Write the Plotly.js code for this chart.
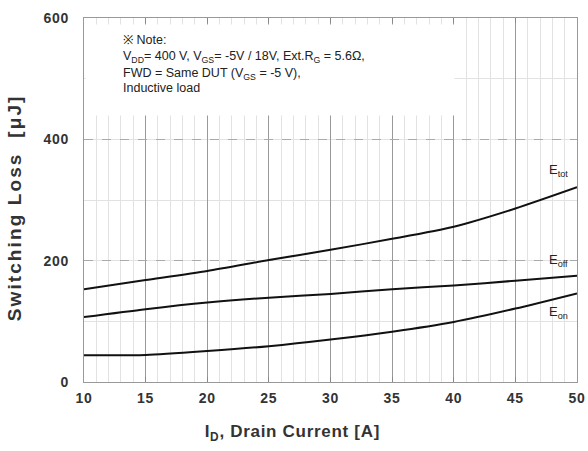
<!DOCTYPE html>
<html><head><meta charset="utf-8">
<script src="https://cdn.plot.ly/plotly-3.0.1.min.js"></script>
<style>
body{margin:0;background:#fff}#c{width:588px;height:451px}
#c g.annotation[data-index="5"] text{letter-spacing:0.7px}
#c g.annotation[data-index="6"] text{letter-spacing:2.1px}
#c .xtick text, #c .ytick text{letter-spacing:0.8px}
</style>
</head><body><div id="c"></div>
<script>
const current = [10, 15, 20, 25, 30, 35, 40, 45, 50];
const eTot = [153, 168, 183, 201, 218, 236, 256, 286, 321];
const eOff = [107, 120, 131, 139, 145, 153, 159, 167, 175];
const eOn  = [44, 44.5, 51, 59, 70, 83, 99, 121, 146];
const xTicks = [10, 15, 20, 25, 30, 35, 40, 45, 50];
const yTicks = [0, 200, 400, 600];
const curveNames = ['E<sub>tot</sub>', 'E<sub>off</sub>', 'E<sub>on</sub>'];
const labelY = [349, 201, 114];
const labelX = 48.5;
const noteLines = [
  '\u203b Note:',
  'V<sub>DD</sub>= 400 V, V<sub>GS</sub>= -5V / 18V, Ext.R<sub>G</sub> = 5.6\u03a9,',
  'FWD = Same DUT (V<sub>GS</sub> = -5 V),',
  'Inductive load'
];
const noteY = [0.9396, 0.8929, 0.8475, 0.8077];

const line = {color: '#111', width: 2, shape: 'spline', smoothing: 0.7};
const traces = [
  {x: current, y: eTot, mode: 'lines', line: line, name: 'Etot'},
  {x: current, y: eOff, mode: 'lines', line: line, name: 'Eoff'},
  {x: current, y: eOn, mode: 'lines', line: line, name: 'Eon'}
];
const fam = 'Liberation Sans, Arial, sans-serif';
const layout = {
  width: 588, height: 451,
  margin: {l: 84, r: 11, t: 18, b: 69},
  paper_bgcolor: '#fff', plot_bgcolor: '#fff',
  showlegend: false,
  xaxis: {
    range: [10, 50], tickvals: xTicks, ticktext: xTicks.map(String),
    ticks: 'inside', ticklen: 5, tickcolor: '#888', mirror: 'ticks',
    showline: true, linecolor: '#999', linewidth: 1,
    showgrid: true, gridcolor: '#999', gridwidth: 1,
    minor: {dtick: 1, showgrid: true, gridcolor: '#e2e2e2', gridwidth: 1, griddash: 'solid'},
    zeroline: false, ticklabelstandoff: 3,
    tickfont: {family: fam, size: 14, color: '#333', weight: 'bold'}
  },
  yaxis: {
    range: [0, 600], tickvals: yTicks, ticktext: yTicks.map(String),
    ticks: 'inside', ticklen: 0, mirror: true,
    showline: true, linecolor: '#999', linewidth: 1,
    showgrid: true, gridcolor: '#aaa', gridwidth: 1, griddash: 'dash',
    minor: {dtick: 100, showgrid: true, gridcolor: '#e2e2e2', gridwidth: 1, griddash: 'solid'},
    zeroline: false, ticklabelstandoff: 11,
    tickfont: {family: fam, size: 14, color: '#333', weight: 'bold'}
  },
  annotations: [
    {xref: 'paper', yref: 'paper', x: 0.002, y: 0.9835, xanchor: 'left', yanchor: 'top',
     showarrow: false, text: ' ', width: 368, height: 90, bgcolor: '#fff', borderpad: 0,
     font: {size: 10}}
  ].concat(noteLines.map((t, i) => ({
     xref: 'paper', yref: 'paper', x: 0.076, y: noteY[i], xanchor: 'left', yanchor: 'middle',
     align: 'left', showarrow: false, text: t,
     font: {family: fam, size: 12.5, color: '#222'}})))
  .concat([
    {xref: 'paper', yref: 'paper', x: 0.422, y: -0.141, xanchor: 'center', yanchor: 'middle',
     showarrow: false, text: 'I<sub>D</sub>, Drain Current [A]',
     font: {family: fam, size: 17, color: '#333', weight: 'bold'}},
    {xref: 'paper', yref: 'paper', x: -0.142, y: 0.48, xanchor: 'center', yanchor: 'middle',
     showarrow: false, textangle: -90, text: 'Switching Loss  [\u03bcJ]',
     font: {family: fam, size: 19, color: '#333', weight: 'bold'}}
  ]).concat(curveNames.map((t, i) => ({
     x: labelX, y: labelY[i], text: t, showarrow: false,
     font: {family: fam, size: 13, color: '#222'}})))
};
Plotly.newPlot('c', traces, layout, {displayModeBar: false, staticPlot: true});
</script></body></html>
